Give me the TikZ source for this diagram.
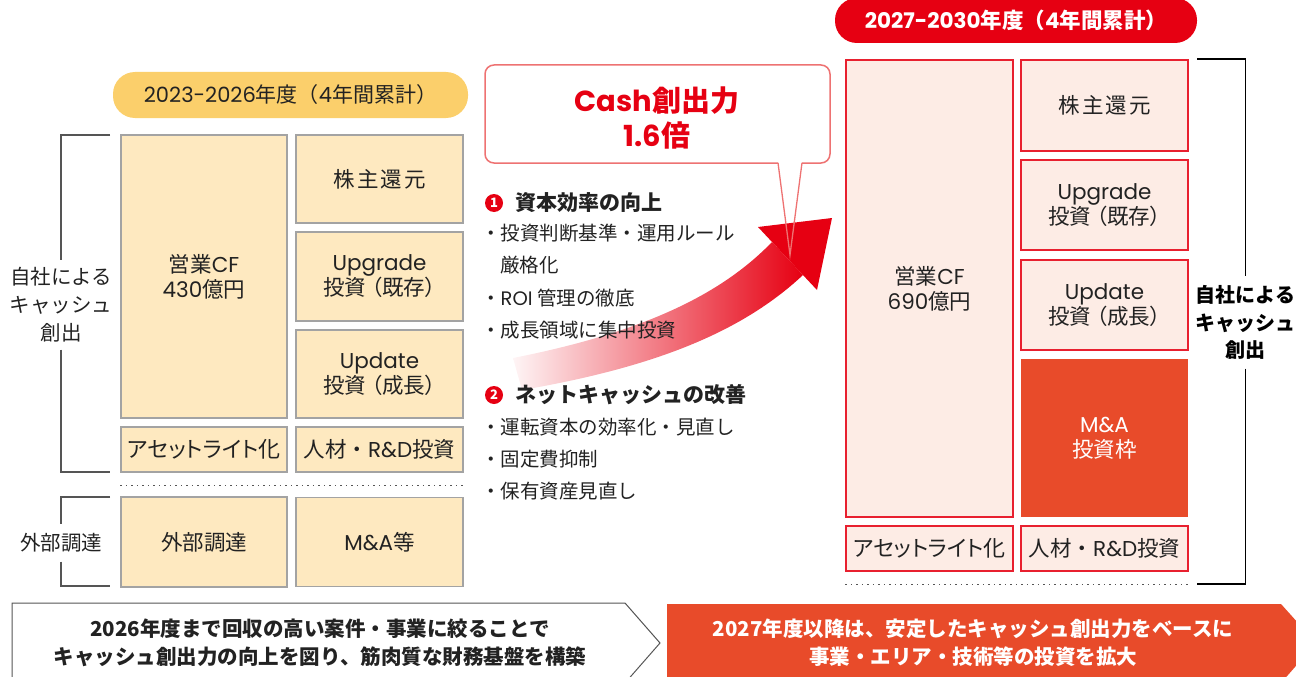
\documentclass[tikz,border=0pt]{standalone}
\usepackage{fontspec}
\setmainfont{Noto Sans CJK JP}
\newfontfamily\latf{Poppins}
\newcommand{\lt}[1]{{\latf #1}}
\newcommand{\fs}[2]{\fontsize{#1}{#2}\selectfont}
\newcommand{\pk}{\addfontfeature{RawFeature=+palt}}
\definecolor{cred}{HTML}{E60012}
\definecolor{corg}{HTML}{E84B2A}
\definecolor{cyel}{HTML}{FBCF6B}
\definecolor{cyfill}{HTML}{FEE9C0}
\definecolor{cyline}{HTML}{A3A3A3}
\definecolor{cpfill}{HTML}{FDECE5}
\definecolor{cpline}{HTML}{E8202F}
\definecolor{cpink}{HTML}{EE7272}
\definecolor{ctext}{HTML}{222222}
\definecolor{cgray}{HTML}{555555}
\begin{document}
\begin{tikzpicture}[x=1pt,y=-1pt,
  ybox/.style={draw=cyline, fill=cyfill, line width=1.1pt, inner sep=0pt, align=center, text=ctext, font=\fs{21.5}{25}},
  pbox/.style={draw=cpline, fill=cpfill, line width=1.4pt, inner sep=0pt, align=center, text=ctext, font=\fs{21.5}{25}},
  obox/.style={fill=corg, inner sep=0pt, align=center, text=white, font=\fs{21.5}{25}},
  pill/.style={rounded corners=22pt, inner sep=0pt},
  itemtxt/.style={anchor=west, inner sep=0pt, text=ctext, font=\fs{19.5}{19.5}},
  headtxt/.style={anchor=west, inner sep=0pt, text=ctext, font=\bfseries\fs{21}{21}},
  numc/.style={circle, fill=cred, text=white, minimum size=18pt, inner sep=0pt, font=\bfseries\fs{13}{13}},
  brk/.style={line width=1.1pt},
  dotline/.style={line width=1.3pt, dash pattern=on 1.2pt off 4.3pt, draw=cgray}
]
\useasboundingbox (0,0) rectangle (1296,677);
\clip (0,0) rectangle (1296,677);

% ---------- left column ----------
\node[pill, fill=cyel, text=ctext, font=\fs{21}{21}, minimum width=355pt, minimum height=46pt] (lp) at (290.5,95) {\lt{2023-2026}年度（\lt{4}年間累計）};

\node[ybox, minimum width=166pt, minimum height=283pt] (lcf) at (204,276.5) {営業\lt{CF}\\\lt{430}億円};
\node[ybox, minimum width=167pt, minimum height=88pt] (lsh) at (379.5,179) {株\kern2pt 主\kern2pt 還\kern2pt 元};
\node[ybox, minimum width=167pt, minimum height=89pt] (lupg) at (379.5,276.5) {\lt{Upgrade}\\{\pk 投資\kern5pt（既存）}};
\node[ybox, minimum width=167pt, minimum height=88pt] (lupd) at (379.5,374) {\lt{Update}\\{\pk 投資\kern5pt（成長）}};
\node[ybox, minimum width=166pt, minimum height=45pt] (lal) at (204,449.5) {{\pk\fs{22}{22}アセットライト化}};
\node[ybox, minimum width=167pt, minimum height=45pt] (lrd) at (379.5,449.5) {人材・\lt{R\&D}投資};
\node[ybox, minimum width=166pt, minimum height=90pt] (lext) at (204,542) {外部調達};
\node[ybox, minimum width=167pt, minimum height=89pt] (lma) at (379.5,542) {\lt{M\&A}等};

\draw[dotline] ([yshift=-13pt]lal.south west) -- ([yshift=-13pt]lrd.south east);

\node[font=\fs{20.5}{28}, align=center, inner xsep=0pt, inner ysep=7pt, text=ctext] (lbl1) at (61,305) {自社による\\キャッシュ\\創出};
\coordinate (lbt) at (110,135);
\coordinate (lbb) at (110,472);
\draw[brk, draw=cgray] (lbt) -| (lbl1.north);
\draw[brk, draw=cgray] (lbl1.south) |- (lbb);

\node[font=\fs{20.5}{20.5}, inner xsep=0pt, inner ysep=9pt, text=ctext] (lbl2) at (61,543) {外部調達};
\coordinate (lct) at (110,497);
\coordinate (lcb) at (110,586);
\draw[brk, draw=cgray] (lct) -| (lbl2.north);
\draw[brk, draw=cgray] (lbl2.south) |- (lcb);

% ---------- middle ----------
\node[draw=cpink, fill=white, rounded corners=9pt, line width=1.5pt, minimum width=345pt, minimum height=98pt, inner sep=0pt] (cbox) at (657.5,114) {};
\node[text=cred, font=\bfseries\fs{29}{35}, align=center, inner sep=0pt] (cash) at (657,117.5) {\lt{Cash}創出力\\\lt{1.6}倍};
\coordinate (tl) at (778,162);
\coordinate (tr) at (802,162);
\coordinate (tip) at (790,255);
\fill[white] (tl) -- (tip) -- (tr) -- cycle;

% arrow
\path[left color=cred!4, right color=cred] (513,358) .. controls (640,333) and (720,296) .. (772,242) -- (803,275) .. controls (740,334) and (650,368) .. (522,390) -- cycle;
\fill[cred] (758,227) -- (832,218) -- (817,290) -- cycle;

\draw[cpink, line width=1.3pt, line join=miter] ([yshift=-0.8pt]tl) -- (tip) -- ([yshift=-0.8pt]tr);

\node[numc] (n1) at (494,203) {1};
\node[headtxt] (h1) at (515,203) {資本効率の向上};
\node[itemtxt] (i1) at (481,233) {・投資判断基準・運用ルール};
\node[itemtxt] (i2) at (500,265) {厳格化};
\node[itemtxt] (i3) at (481,298) {・\lt{ROI} 管理の徹底};
\node[itemtxt] (i4) at (481,330) {・成長領域に集中投資};
\node[numc] (n2) at (494,395) {2};
\node[headtxt] (h2) at (515,395) {ネットキャッシュの改善};
\node[itemtxt] (i5) at (481,427) {・運転資本の効率化・見直し};
\node[itemtxt] (i6) at (481,459) {・固定費抑制};
\node[itemtxt] (i7) at (481,491) {・保有資産見直し};

% ---------- right column ----------
\node[pill, fill=cred, text=white, font=\bfseries\fs{21.5}{21.5}, minimum width=362pt, minimum height=45pt] (rp) at (1016,20.5) {\lt{2027-2030}年度（\lt{4}年間累計）};

\node[pbox, minimum width=167pt, minimum height=457pt] (rcf) at (929.5,288.5) {営業\lt{CF}\\\lt{690}億円};
\node[pbox, minimum width=167pt, minimum height=91pt] (rsh) at (1104.5,105.5) {株\kern2pt 主\kern2pt 還\kern2pt 元};
\node[pbox, minimum width=167pt, minimum height=90pt] (rupg) at (1104.5,205) {\lt{Upgrade}\\{\pk 投資\kern5pt（既存）}};
\node[pbox, minimum width=167pt, minimum height=90pt] (rupd) at (1104.5,305) {\lt{Update}\\{\pk 投資\kern5pt（成長）}};
\node[obox, minimum width=167pt, minimum height=158pt] (rma) at (1104.5,438) {\lt{M\&A}\\投資枠};
\node[pbox, minimum width=167pt, minimum height=45pt] (ral) at (929.5,548.5) {{\pk\fs{22}{22}アセットライト化}};
\node[pbox, minimum width=167pt, minimum height=45pt] (rrd) at (1104.5,548.5) {人材・\lt{R\&D}投資};

\draw[dotline] ([yshift=-13pt]ral.south west) -- ([yshift=-13pt,xshift=2pt]rrd.south east);

\node[font=\bfseries\fs{20}{27.5}, align=center, inner xsep=0pt, inner ysep=9pt, text=black] (rlbl) at (1245.5,322.5) {自社による\\キャッシュ\\創出};
\coordinate (rbt) at (1197,59);
\coordinate (rbb) at (1197,584);
\draw[brk, draw=black] (rbt) -| (rlbl.north);
\draw[brk, draw=black] (rlbl.south) |- (rbb);

% ---------- bottom banners ----------
\draw[draw=cgray, line width=1pt, fill=white] (12,603) -- (625,603) -- (660,643) -- (625,683) -- (12,683) -- cycle;
\node[font=\bfseries\fs{20.5}{28}, align=center, text=ctext, inner sep=0pt] (bl) at (320,643) {2026年度まで回収の高い案件・事業に絞ることで\\キャッシュ創出力の向上を図り、筋肉質な財務基盤を構築};
\fill[corg] (667,604) -- (1281,604) -- (1316,643) -- (1281,683) -- (667,683) -- cycle;
\node[font=\bfseries\fs{20.5}{28}, align=center, text=white, inner sep=0pt] (br) at (973,643) {2027年度以降は、安定したキャッシュ創出力をベースに\\事業・エリア・技術等の投資を拡大};
\end{tikzpicture}
\end{document}
